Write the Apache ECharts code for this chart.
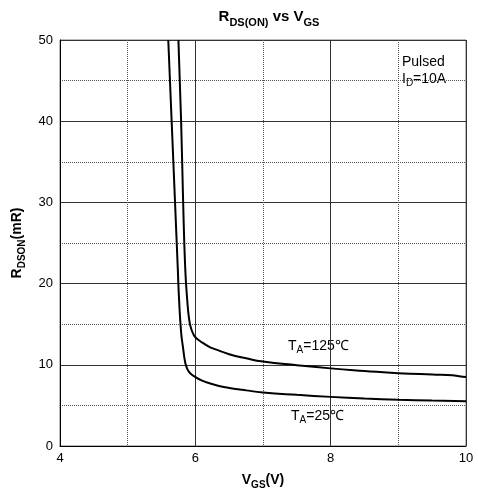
<!DOCTYPE html>
<html>
<head>
<meta charset="utf-8">
<script src="https://cdn.jsdelivr.net/npm/echarts@6/dist/echarts.min.js"></script>
<style>html,body{margin:0;padding:0;background:#fff;}#c{width:478px;height:495px;}</style>
</head>
<body>
<div id="c"></div>
<script>
// V_GS (V) and R_DS(ON) (mR)
var vgs25  = [5.60, 5.65, 5.70, 5.74, 5.76, 5.79, 5.82, 5.85, 5.88, 5.92, 6.00, 6.10, 6.20, 6.35, 6.50, 6.75, 7.00, 7.50, 8.00, 8.50, 9.00, 9.50, 10.00];
var rds25  = [50,   40,   30,   22,   18,   14,   12,   10.3, 9.5,  9.0,  8.5,  8.05, 7.75, 7.4,  7.15, 6.85, 6.6,  6.3,  6.05, 5.85, 5.7,  5.6,  5.52];
var vgs125 = [5.75, 5.79, 5.82, 5.85, 5.88, 5.91, 5.94, 5.97, 6.00, 6.10, 6.20, 6.30, 6.50, 6.75, 7.00, 7.50, 8.00, 8.50, 9.00, 9.50, 9.80, 9.90, 10.00];
var rds125 = [50,   40,   30,   22,   18,   15.5, 14.4, 13.8, 13.4, 12.75,12.25,11.9, 11.3, 10.8, 10.4, 9.95, 9.56, 9.25, 8.97, 8.8,  8.72, 8.6,  8.5];
var xTicks = [4, 6, 8, 10];
var yTicks = [0, 10, 20, 30, 40, 50];

function pairs(xs, ys) { return xs.map(function (x, i) { return [x, ys[i]]; }); }

var FONT = 'Liberation Sans, Arial, sans-serif';
function sub(size, subSize, bold, pad) {
  var w = bold ? 'bold' : 'normal';
  return {
    a: {fontSize: size, fontWeight: w, color: '#000', fontFamily: FONT, lineHeight: size + 2, verticalAlign: 'top'},
    b: {fontSize: subSize, fontWeight: w, color: '#000', fontFamily: FONT, lineHeight: subSize, padding: [pad, 0, 0, 0], verticalAlign: 'top'}
  };
}
var chart = echarts.init(document.getElementById('c'), null, {renderer: 'canvas'});
chart.setOption({
  animation: false,
  backgroundColor: '#fff',
  title: {
    text: '{a|R}{b|DS(ON)}{a| vs V}{b|GS}',
    left: 264, textAlign: 'center', top: 4,
    textStyle: {fontFamily: FONT, rich: sub(15, 11, true, 8)}
  },
  grid: {left: 60, right: 12, top: 40, bottom: 47, show: true, borderColor: '#777', borderWidth: 1},
  xAxis: {
    type: 'value', min: 4, max: 10, interval: 2,
    name: '{a|V}{b|GS}{a|(V)}', nameLocation: 'middle', nameGap: 27,
    nameTextStyle: {rich: sub(14, 10, true, 7)},
    axisLine: {lineStyle: {color: '#000', width: 1}},
    axisTick: {show: false},
    axisLabel: {color: '#000', fontSize: 13, fontFamily: FONT, margin: 6,
      formatter: function (v) { return xTicks.indexOf(v) >= 0 ? String(v) : ''; }},
    splitLine: {show: true, lineStyle: {color: '#333', width: 1}},
    minorTick: {show: false, splitNumber: 2},
    minorSplitLine: {show: true, lineStyle: {color: '#555', width: 1, type: [1, 1]}}
  },
  yAxis: {
    type: 'value', min: 0, max: 50, interval: 10,
    name: '{a|R}{b|DSON}{a|(mR)}', nameLocation: 'middle', nameGap: 29, nameRotate: 90,
    nameTextStyle: {rich: sub(14, 10, true, 7)},
    axisLine: {show: true, lineStyle: {color: '#000', width: 1}},
    axisTick: {show: false},
    axisLabel: {color: '#000', fontSize: 13, fontFamily: FONT, margin: 7,
      formatter: function (v) { return yTicks.indexOf(v) >= 0 ? String(v) : ''; }},
    splitLine: {show: true, lineStyle: {color: '#333', width: 1}},
    minorTick: {show: false, splitNumber: 2},
    minorSplitLine: {show: true, lineStyle: {color: '#555', width: 1, type: [1, 1]}}
  },
  series: [
    {name: '25', type: 'line', data: pairs(vgs25, rds25), showSymbol: false, smooth: 0.5,
      lineStyle: {color: '#000', width: 2}, clip: true},
    {name: '125', type: 'line', data: pairs(vgs125, rds125), showSymbol: false, smooth: 0.5,
      lineStyle: {color: '#000', width: 2}, clip: true}
  ],
  graphic: [
    {type: 'text', left: 402, top: 55, style: {text: 'Pulsed', font: '14px ' + FONT, fill: '#000'}},
    {type: 'text', left: 402, top: 72, style: {text: '{a|I}{b|D}{a|=10A}', fill: '#000', rich: sub(14, 10, false, 6)}},
    {type: 'text', left: 288, top: 339, style: {text: '{a|T}{b|A}{a|=125℃}', fill: '#000', rich: sub(14, 10, false, 6)}},
    {type: 'text', left: 291, top: 409, style: {text: '{a|T}{b|A}{a|=25℃}', fill: '#000', rich: sub(14, 10, false, 6)}}
  ]
});
</script>
</body>
</html>
